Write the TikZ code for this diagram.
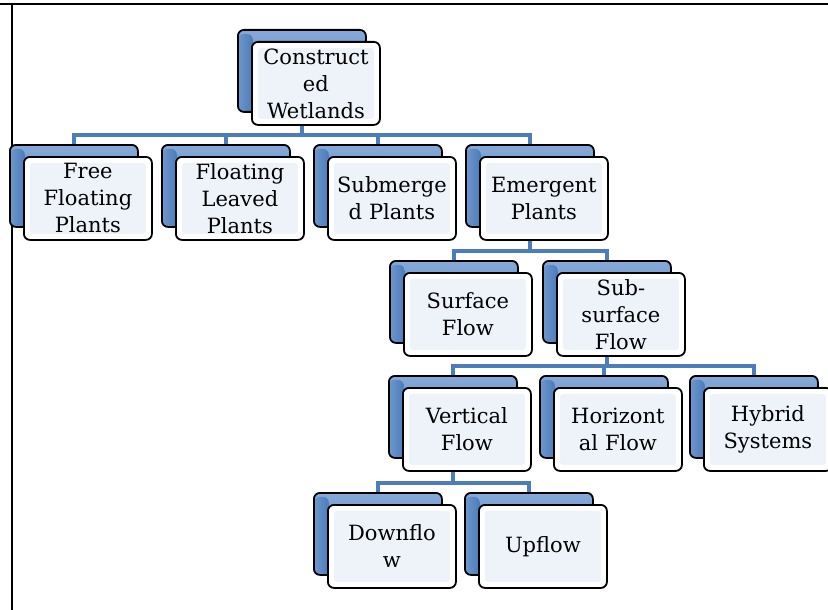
\documentclass[tikz,border=0pt]{standalone}
\usepackage{fontspec}
\setmainfont{DejaVu Serif}
\usetikzlibrary{backgrounds}

\definecolor{linkblue}{HTML}{4A7DBA}
\definecolor{backblue}{HTML}{4A7CBA}
\definecolor{backhi}{HTML}{86A9D8}
\definecolor{frontin}{HTML}{EEF2F9}

\tikzset{
  backbox/.style={draw=black, line width=1.8pt, rounded corners=6pt,
    fill=backblue, minimum width=128pt, minimum height=82pt,
    inner sep=0pt, anchor=north west,
    path picture={
      \shade[top color=backhi, bottom color=backblue]
        (path picture bounding box.north west) rectangle
        ([yshift=-13pt]path picture bounding box.north east);
      \shade[left color=backhi!60!backblue, right color=backblue]
        ([yshift=-4pt]path picture bounding box.north west) rectangle
        ([xshift=15pt]path picture bounding box.south west);
    }},
  frontbox/.style={draw=black, line width=1.8pt, rounded corners=6pt,
    fill=white, minimum width=128pt, minimum height=83pt,
    text width=124pt, align=center, inner sep=0pt, anchor=north west,
    font=\fontsize{21}{27}\selectfont,
    path picture={
      \fill[frontin, rounded corners=3pt]
        ([shift={(6pt,-6pt)}]path picture bounding box.north west) rectangle
        ([shift={(-6pt,6pt)}]path picture bounding box.south east);
    }},
  link/.style={draw=linkblue, line width=4.5pt},
  frame/.style={draw=black, line width=1.2pt}
}

% one hierarchy entry: shaded card behind, labelled card in front
\newcommand\wetpair[4]{%
  \node[backbox] (#1B) at (#2,#3) {};
  \node[frontbox] (#1) at ([shift={(14pt,-12pt)}]#1B.north west) {#4};
}

\begin{document}
\begin{tikzpicture}[x=1pt,y=-1pt]
\useasboundingbox (0,0) rectangle (828,610);

% table rules
\coordinate (tl) at (12,4);
\coordinate (tr) at (828,4);
\coordinate (t0) at (0,4);
\coordinate (bl) at (12,610);
\draw[frame] (t0) -- (tr);
\draw[frame] (tl) -- (bl);

% level 0
\wetpair{root}{237}{29}{Construct\\ed\\Wetlands}
% level 1
\wetpair{free}{9}{144}{Free\\Floating\\Plants}
\wetpair{leaved}{161}{144}{Floating\\Leaved\\Plants}
\wetpair{subm}{313}{144}{Submerge\\d Plants}
\wetpair{emerg}{465}{144}{Emergent\\Plants}
% level 2
\wetpair{surf}{389}{260}{Surface\\Flow}
\wetpair{subsurf}{542}{260}{Sub-\\surface\\Flow}
% level 3
\wetpair{vert}{388}{375}{Vertical\\Flow}
\wetpair{horiz}{539}{375}{Horizont\\al Flow}
\wetpair{hybrid}{689}{375}{Hybrid\\Systems}
% level 4
\wetpair{down}{313}{492}{Downflo\\w}
\wetpair{up}{464}{492}{Upflow}

% connectors, behind the cards
\begin{scope}[on background layer]
  \foreach \c in {free,leaved,subm,emerg}
    \draw[link] (rootB.south) |- ([yshift=9pt]\c B.north) -- (\c B.north);
  \foreach \c in {surf,subsurf}
    \draw[link] (emergB.south) |- ([yshift=9pt]\c B.north) -- (\c B.north);
  \foreach \c in {vert,horiz,hybrid}
    \draw[link] (subsurfB.south) |- ([yshift=9pt]\c B.north) -- (\c B.north);
  \foreach \c in {down,up}
    \draw[link] (vertB.south) |- ([yshift=9pt]\c B.north) -- (\c B.north);
\end{scope}
\end{tikzpicture}
\end{document}
